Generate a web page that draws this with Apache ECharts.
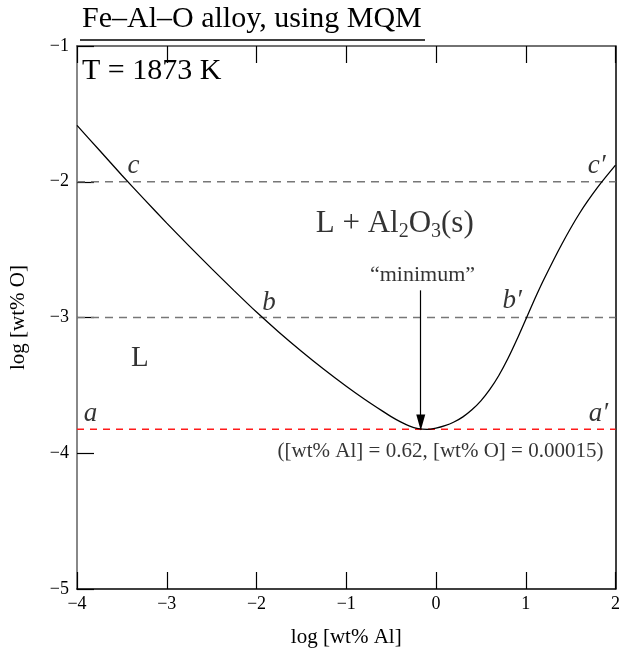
<!DOCTYPE html>
<html>
<head>
<meta charset="utf-8">
<script src="https://cdn.jsdelivr.net/npm/echarts@6/dist/echarts.min.js"></script>
<style>
html,body{margin:0;padding:0;background:#fff;}
#chart{width:623px;height:653px;}
</style>
</head>
<body>
<div id="chart"></div>
<script>
// x: log [wt% Al], y: log [wt% O]
const curveX = [-4.0, -3.75, -3.5, -3.25, -3.0, -2.75, -2.5, -2.25, -2.0, -1.75, -1.5, -1.25, -1.0, -0.8, -0.6, -0.5, -0.4, -0.3, -0.2, -0.1, 0.0, 0.1, 0.2, 0.3, 0.4, 0.5, 0.6, 0.7, 0.8, 0.9, 1.0, 1.1, 1.2, 1.4, 1.6, 1.8, 2.0];
const curveY = [-1.585, -1.768, -1.952, -2.130, -2.305, -2.474, -2.640, -2.802, -2.960, -3.108, -3.248, -3.381, -3.506, -3.600, -3.688, -3.730, -3.767, -3.798, -3.818, -3.824, -3.815, -3.797, -3.770, -3.732, -3.680, -3.614, -3.530, -3.427, -3.304, -3.164, -3.014, -2.864, -2.722, -2.462, -2.232, -2.042, -1.878];
const xTicks = [-4, -3, -2, -1, 0, 1, 2];
const yTicks = [-5, -4, -3, -2, -1];
const levelC = -2;
const levelB = -3;
const levelA = -3.824;   // log10(0.00015)
const minAl = -0.17;     // arrow position
const xRange = [-4, 2];
const yRange = [-5, -1];

const curve = curveX.map((x, i) => [x, curveY[i]]);
const hline = (y) => [[xRange[0], y], [xRange[1], y]];

const serif = '"Liberation Serif", "DejaVu Serif", serif';
const fmtNeg = v => (v < 0 ? '\u2212' + Math.abs(v) : String(v));

function tag(x, y, label) {
  return {
    value: [x, y],
    label: Object.assign({ show: true, position: 'inside', fontFamily: serif, fontSize: 27, fontStyle: 'italic', color: '#000' }, label)
  };
}

const chart = echarts.init(document.getElementById('chart'));
const axisCommon = {
  type: 'value', min: xRange[0], max: xRange[1], interval: 1,
  splitLine: { show: false }
};
chart.setOption({
  animation: false,
  grid: { left: 74, right: 2, top: 46, bottom: 60, containLabel: false },
  xAxis: [
    Object.assign({}, axisCommon, {
      position: 'bottom',
      axisLine: { show: true, onZero: false, lineStyle: { color: '#000', width: 1.5 } },
      axisTick: { show: true, inside: true, length: 17, lineStyle: { color: '#000', width: 1.2 } },
      axisLabel: { show: true, fontFamily: serif, fontSize: 18, color: '#000', margin: 6, formatter: fmtNeg },
      name: 'log [wt% Al]', nameLocation: 'middle', nameGap: 38,
      nameTextStyle: { fontFamily: serif, fontSize: 21, color: '#000' }
    }),
    Object.assign({}, axisCommon, {
      position: 'top',
      axisLine: { show: true, onZero: false, lineStyle: { color: '#444', width: 1.5 } },
      axisTick: { show: true, inside: true, length: 17, lineStyle: { color: '#000', width: 1.2 } },
      axisLabel: { show: false }
    })
  ],
  yAxis: [
    {
      type: 'value', min: yRange[0], max: yRange[1], interval: 1, position: 'left',
      splitLine: { show: false },
      axisLine: { show: true, onZero: false, lineStyle: { color: '#888', width: 2 } },
      axisTick: { show: true, inside: true, length: 17, lineStyle: { color: '#000', width: 1.2 } },
      axisLabel: { show: true, fontFamily: serif, fontSize: 18, color: '#000', margin: 8, formatter: fmtNeg },
      name: 'log [wt% O]', nameLocation: 'middle', nameGap: 48, nameRotate: 90,
      nameTextStyle: { fontFamily: serif, fontSize: 21, color: '#000' }
    },
    {
      type: 'value', min: yRange[0], max: yRange[1], interval: 1, position: 'right',
      splitLine: { show: false },
      axisLine: { show: true, onZero: false, lineStyle: { color: '#000', width: 1.5 } },
      axisTick: { show: false },
      axisLabel: { show: false }
    }
  ],
  graphic: [
    { type: 'text', left: 82, top: 4, style: { text: 'Fe\u2013Al\u2013O alloy, using MQM', fontFamily: serif, fontSize: 30, fill: '#000' } },
    { type: 'line', shape: { x1: 80, y1: 40, x2: 425, y2: 40 }, style: { stroke: '#000', lineWidth: 1.5 } },
    { type: 'text', left: 82, top: 56, style: { text: 'T = 1873 K', fontFamily: serif, fontSize: 30, fill: '#000' } }
  ],
  series: [
    { type: 'line', data: hline(levelC), showSymbol: false, silent: true,
      lineStyle: { color: '#777', width: 1.4, type: [8, 6] } },
    { type: 'line', data: hline(levelB), showSymbol: false, silent: true,
      lineStyle: { color: '#777', width: 1.4, type: [8, 6] } },
    { type: 'line', data: hline(levelA), showSymbol: false, silent: true,
      lineStyle: { color: '#ff1a1a', width: 1.5, type: [7, 6] } },
    { type: 'line', data: curve, showSymbol: false, smooth: 0.25, silent: true,
      lineStyle: { color: '#000', width: 1.3 },
      markLine: {
        silent: true, symbol: ['none', 'triangle'], symbolSize: [9, 16], symbolRotate: 180,
        lineStyle: { color: '#000', width: 1.2, type: 'solid' }, label: { show: false },
        data: [[{ coord: [minAl, -2.80] }, { coord: [minAl, levelA + 0.05] }]]
      }
    },
    {
      type: 'scatter', symbolSize: 0, silent: true,
      data: [
        tag(-3.37, -1.88, { formatter: 'c' }),
        tag(1.79, -1.88, { formatter: 'c\u2032' }),
        tag(-1.86, -2.89, { formatter: 'b' }),
        tag(0.85, -2.88, { formatter: 'b\u2032' }),
        tag(-3.85, -3.71, { formatter: 'a' }),
        tag(1.81, -3.71, { formatter: 'a\u2032' }),
        tag(-3.30, -3.30, { formatter: 'L', fontStyle: 'normal', fontSize: 29 }),
        tag(-0.46, -2.31, { fontStyle: 'normal', fontSize: 31, formatter: 'L + Al{s|2}O{s|3}(s)',
          rich: { s: { fontFamily: serif, fontSize: 20, color: '#000', padding: [16, 0, 0, 0] } } }),
        tag(-0.15, -2.69, { fontStyle: 'normal', fontSize: 22, formatter: '\u201cminimum\u201d' }),
        tag(0.05, -3.99, { fontStyle: 'normal', fontSize: 21, formatter: '([wt% Al] = 0.62, [wt% O] = 0.00015)' })
      ]
    }
  ]
});
</script>
</body>
</html>
